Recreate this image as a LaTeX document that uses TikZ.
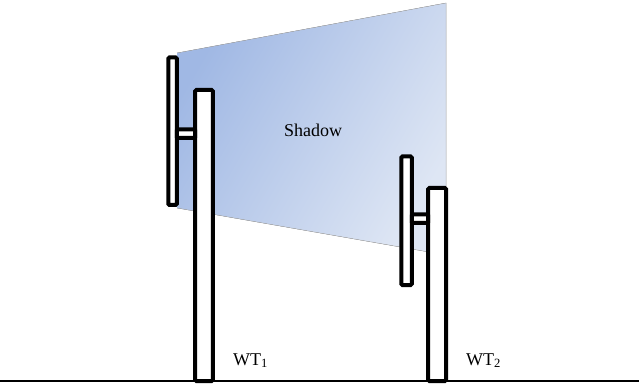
\documentclass[tikz,border=0pt]{standalone}
\usepackage{fontspec}
\setmainfont{Liberation Serif}
\usepackage{tikz}
\usepackage{xcolor}
\definecolor{shadedark}{HTML}{A0B8E4}
\definecolor{shadelight}{HTML}{DEE6F4}

\begin{document}
\begin{tikzpicture}[x=1pt,y=-1pt,
    part/.style={draw=black,fill=white,line width=4pt,rounded corners=1.2pt},
    label/.style={font=\fontsize{18}{20}\selectfont,inner sep=0pt}]
    \useasboundingbox (0,0) rectangle (639,387);
    % shadow cast by the first turbine
    \fill[top color=shadedark,bottom color=shadelight,shading angle=60]
      (177,53) -- (446,3) -- (446,255) -- (177,208) -- cycle;
    \draw[gray!60,line width=0.4pt] (177,53) -- (446,3) -- (446,255) -- (177,208);
    % ground
    \draw [line width=1.5pt] (0,381) -- (639,381);
    % turbine 1
    \draw[part] (168.3,57.5) rectangle (176.8,205);
    \draw[part] (195.2,90) rectangle (212.8,381);
    \draw[part] (176.8,129.5) rectangle (195.2,138);
    % turbine 2
    \draw[part] (401.3,156.5) rectangle (411.8,285);
    \draw[part] (428.2,188) rectangle (446,381);
    \draw[part] (411.8,214.5) rectangle (428.2,223);
    % labels
    \node[label,anchor=base] (shadow) at (313,137) {Shadow};
    \node[label,anchor=base west] (wt1) at (233,365) {WT\textsubscript{1}};
    \node[label,anchor=base west] (wt2) at (466,365) {WT\textsubscript{2}};
  \end{tikzpicture}
\end{document}
